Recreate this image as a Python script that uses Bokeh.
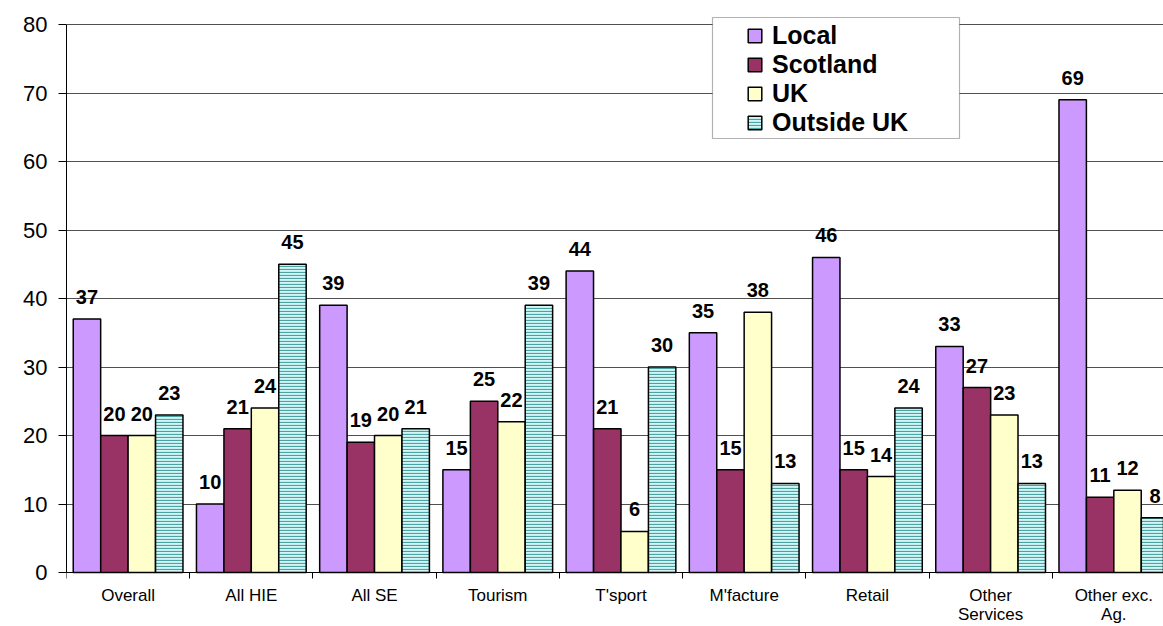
from bokeh.plotting import figure
from bokeh.models import (Range1d, FixedTicker, ColumnDataSource, LabelSet, Legend, LegendItem,
                          BoxAnnotation)
from bokeh.core.properties import value
from bokeh.embed import file_html
from bokeh.resources import INLINE

categories = ["Overall", "All HIE", "All SE", "Tourism", "T'sport", "M'facture", "Retail",
              "Other\nServices", "Other exc.\nAg."]
series_names = ["Local", "Scotland", "UK", "Outside UK"]
local = [37, 10, 39, 15, 44, 35, 46, 33, 69]
scotland = [20, 21, 19, 25, 21, 15, 15, 27, 11]
uk = [20, 24, 20, 22, 6, 38, 14, 23, 12]
outside_uk = [23, 45, 21, 39, 30, 13, 24, 13, 8]
y_ticks = [0, 10, 20, 30, 40, 50, 60, 70, 80]

FONT = "Liberation Sans"
colors = ["#cc99ff", "#993366", "#ffffcc", "#d2f5f5"]
series = [local, scotland, uk, outside_uk]
offsets = [-0.334, -0.111, 0.111, 0.334]
bar_w = 0.2225

n = len(categories)
p = figure(width=1163, height=626, output_backend="svg", toolbar_location=None,
           x_range=Range1d(0, 8.903), y_range=Range1d(-7.883, 81.168),
           min_border_left=66, min_border_right=0, min_border_top=16, min_border_bottom=0)
p.outline_line_color = None
p.background_fill_color = "white"

p.xgrid.visible = False
p.ygrid.ticker = FixedTicker(ticks=y_ticks)
p.ygrid.grid_line_color = "#505050"
p.ygrid.grid_line_width = 1

centers = [i + 0.5 for i in range(n)]
p.xaxis.ticker = FixedTicker(ticks=centers, minor_ticks=list(range(n + 1)))
p.xaxis.major_label_overrides = {c: lab for c, lab in zip(centers, categories)}
p.xaxis.fixed_location = 0
p.xaxis.major_tick_out = 0
p.xaxis.major_tick_in = 0
p.xaxis.minor_tick_out = 6
p.xaxis.minor_tick_in = 0
p.xaxis.minor_tick_line_color = "black"
p.xaxis.major_label_standoff = 7
p.xaxis.major_label_text_font = FONT
p.xaxis.major_label_text_font_size = "17px"
p.xaxis.major_label_text_line_height = 1.05
p.xaxis.major_label_text_color = "black"
p.xaxis.axis_line_color = "black"

p.yaxis.ticker = FixedTicker(ticks=y_ticks)
p.yaxis.bounds = (0, 80)
p.yaxis.major_tick_out = 8
p.yaxis.major_tick_in = 0
p.yaxis.minor_tick_line_color = None
p.yaxis.major_label_standoff = 11
p.yaxis.major_label_text_font = FONT
p.yaxis.major_label_text_font_size = "22px"
p.yaxis.major_label_text_color = "black"
p.yaxis.axis_line_color = "black"

renderers = []
for k, (vals, col, off) in enumerate(zip(series, colors, offsets)):
    xs = [c + off for c in centers]
    src = ColumnDataSource(dict(x=xs, top=vals, label=[str(v) for v in vals]))
    kw = {}
    if k == 3:
        kw = dict(hatch_pattern="horizontal_line", hatch_color="#4aa3a3",
                  hatch_scale=3, hatch_weight=1.2)
    r = p.vbar(x="x", top="top", bottom=0, width=bar_w, source=src, fill_color=col,
               line_color="black", line_width=1.5, **kw)
    renderers.append(r)
    p.add_layout(LabelSet(x="x", y="top", text="label", source=src, y_offset=15,
                          text_align="center", text_baseline="alphabetic",
                          text_font=value(FONT), text_font_style="bold",
                          text_font_size=value("20px"), text_color="black"))

box = BoxAnnotation(left=646, right=893, bottom=488, top=609,
                    left_units="screen", right_units="screen",
                    bottom_units="screen", top_units="screen",
                    fill_color="white", fill_alpha=1, line_color="black", line_width=1.2)
p.add_layout(box)

legend = Legend(items=[LegendItem(label=nm, renderers=[r]) for nm, r in zip(series_names, renderers)],
                location=(680, 489), padding=0, margin=0, spacing=0,
                glyph_width=17, glyph_height=17, label_height=29, label_standoff=9,
                label_text_font=FONT, label_text_font_style="bold", label_text_font_size="25px",
                label_text_color="black",
                border_line_color=None, background_fill_alpha=0)
p.add_layout(legend)

open("out.html", "w").write(file_html(p, INLINE))
